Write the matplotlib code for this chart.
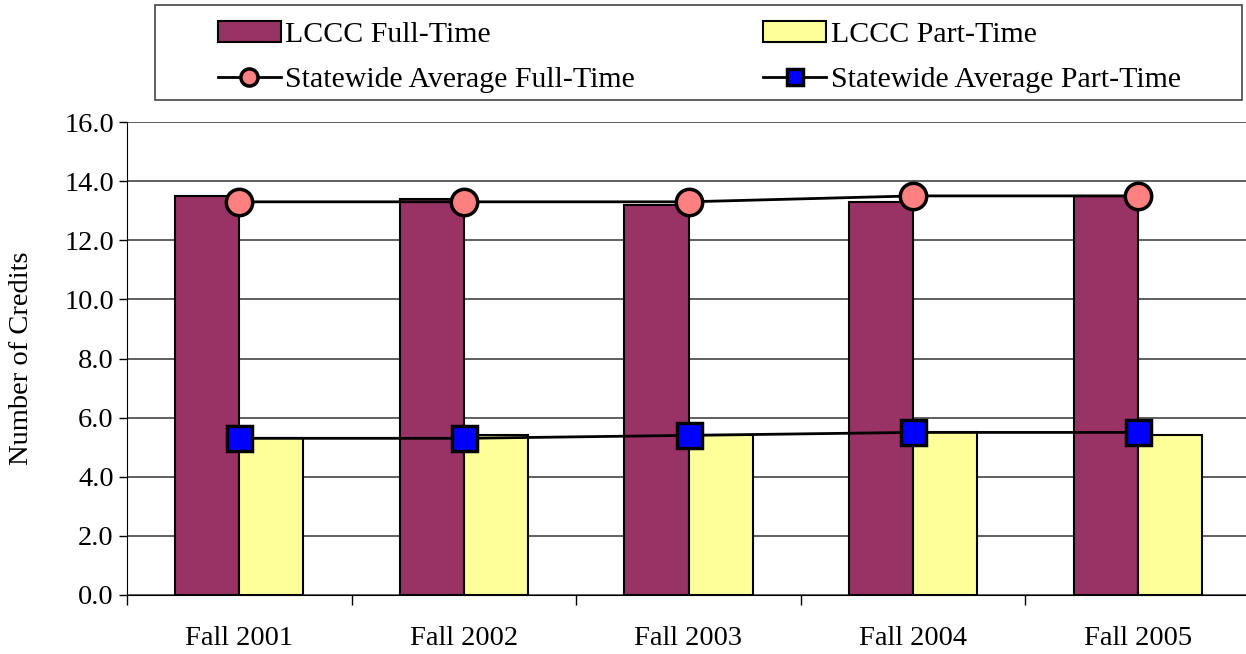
import numpy as np
import matplotlib
matplotlib.use('Agg')
import matplotlib.pyplot as plt
from matplotlib.patches import Rectangle

terms = ["Fall 2001", "Fall 2002", "Fall 2003", "Fall 2004", "Fall 2005"]
lccc_ft = [13.5, 13.4, 13.2, 13.3, 13.5]
lccc_pt = [5.3, 5.4, 5.4, 5.5, 5.4]
state_ft = [13.3, 13.3, 13.3, 13.5, 13.5]
state_pt = [5.3, 5.3, 5.4, 5.5, 5.5]

plt.rcParams['font.family'] = ['Liberation Serif', 'DejaVu Serif']
plt.rcParams['font.size'] = 20.5

W, H = 1246, 654
fig = plt.figure(figsize=(W/100, H/100), dpi=100)
ax = fig.add_axes([127/W, 1-595/H, (1250-127)/W, (595-122)/H])

x = np.arange(len(terms))
w = 0.285
b1 = ax.bar(x - w/2, lccc_ft, w, color='#993366', edgecolor='black', linewidth=1.5, zorder=2)
b2 = ax.bar(x + w/2, lccc_pt, w, color='#FFFF99', edgecolor='black', linewidth=1.5, zorder=2)
l1, = ax.plot(x, state_ft, color='black', lw=2, marker='o', ms=19, mfc='#FF8080', mec='black', mew=2.5, zorder=3)
l2, = ax.plot(x, state_pt, color='black', lw=2, marker='s', ms=18, mfc='#0000FF', mec='black', mew=2.5, zorder=3)

ax.set_ylim(0, 16)
ax.set_yticks(np.arange(0, 16.1, 2))
ax.set_yticklabels(["%.1f" % v for v in np.arange(0, 16.1, 2)])
ax.set_xlim(-0.5, len(terms) - 0.5)
ax.set_xticks(x)
ax.set_xticklabels(terms)
ax.set_xticks(np.arange(-0.5, len(terms)), minor=True)
ax.tick_params(axis='x', which='major', length=0, pad=22)
ax.tick_params(axis='x', which='minor', length=7, width=1)
ax.tick_params(axis='y', length=6, width=1)
ax.yaxis.grid(True, color='#444444', lw=1.2, zorder=0)
ax.set_axisbelow(True)
for s in ['top', 'right']:
    ax.spines[s].set_visible(False)
ax.set_ylabel("Number of Credits")
ax.yaxis.set_label_coords(-0.083, 0.5)

# legend frame drawn separately, legend itself without frame
fig.patches.append(Rectangle((155/W, 1-100/H), (1242-155)/W, 95/H, transform=fig.transFigure,
                             facecolor='white', edgecolor='#444444', lw=1.2))
leg = fig.legend([b1, l1, b2, l2],
                 ["LCCC Full-Time", "Statewide Average Full-Time", "LCCC Part-Time", "Statewide Average Part-Time"],
                 ncol=2, loc='upper left', bbox_to_anchor=(218/W, 1-21/H),
                 frameon=False, fontsize=21.5, borderpad=0, borderaxespad=0,
                 handlelength=2.1, handletextpad=0.15, labelspacing=0.62, columnspacing=4.3,
                 markerscale=0.65)

fig.savefig("out.png", dpi=100)
